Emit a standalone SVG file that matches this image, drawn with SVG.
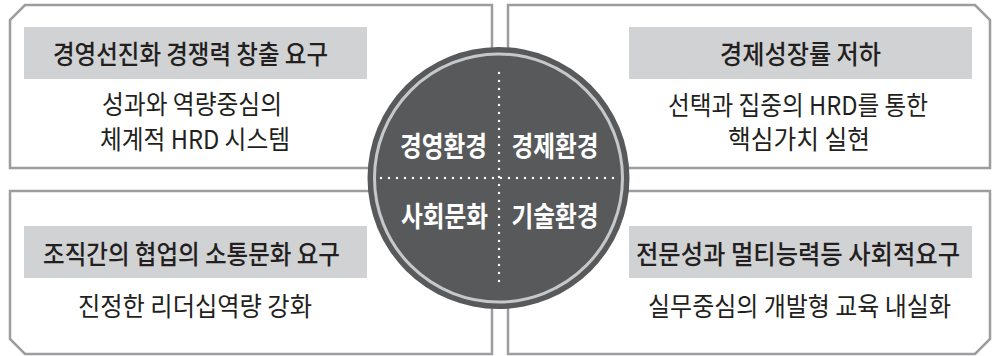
<svg xmlns="http://www.w3.org/2000/svg" width="993" height="356" viewBox="0 0 993 356">
<style>
.box{fill:#ffffff;stroke:#9d9d9f;stroke-width:2.5}
.hdr{fill:#d1d2d4}
.ht{font-family:"Noto Sans CJK KR","Noto Sans",sans-serif;font-size:26.5px;font-weight:500;fill:#231f20;text-anchor:middle;dominant-baseline:central}
.bt{font-family:"Noto Sans CJK KR","Noto Sans",sans-serif;font-size:26px;font-weight:400;fill:#231f20;text-anchor:middle;dominant-baseline:central}
.ct{font-family:"Noto Sans CJK KR","Noto Sans",sans-serif;font-size:28px;font-weight:700;fill:#ffffff;text-anchor:middle;dominant-baseline:central}
.dot{stroke:#ffffff;stroke-width:2.4;stroke-linecap:round;stroke-dasharray:0 8;fill:none}
</style>
<g id="box-management">
<path class="box" d="M25,5 L492,5 L492,168 L10,168 L10,20 Z"/>
<rect class="hdr" x="24" y="27" width="343" height="52"/>
<text class="ht" x="190.5" y="52" textLength="275" lengthAdjust="spacingAndGlyphs">경영선진화 경쟁력 창출 요구</text>
<text class="bt" x="192" y="102" textLength="180" lengthAdjust="spacingAndGlyphs">성과와 역량중심의</text>
<text class="bt" x="195" y="137" textLength="190" lengthAdjust="spacingAndGlyphs">체계적 HRD 시스템</text>
</g>
<g id="box-economy">
<path class="box" d="M508,5 L975,5 L990,20 L990,168 L508,168 Z"/>
<rect class="hdr" x="629" y="27" width="343" height="52"/>
<text class="ht" x="800.5" y="52" textLength="161" lengthAdjust="spacingAndGlyphs">경제성장률 저하</text>
<text class="bt" x="798" y="103" textLength="260" lengthAdjust="spacingAndGlyphs">선택과 집중의 HRD를 통한</text>
<text class="bt" x="799" y="137" textLength="142" lengthAdjust="spacingAndGlyphs">핵심가치 실현</text>
</g>
<g id="box-society">
<path class="box" d="M10,191 L492,191 L492,354 L25,354 L10,339 Z"/>
<rect class="hdr" x="24" y="226" width="343" height="52"/>
<text class="ht" x="191.5" y="252.5" textLength="297" lengthAdjust="spacingAndGlyphs">조직간의 협업의 소통문화 요구</text>
<text class="bt" x="195" y="304.5" textLength="234" lengthAdjust="spacingAndGlyphs">진정한 리더십역량 강화</text>
</g>
<g id="box-technology">
<path class="box" d="M508,191 L990,191 L990,339 L975,354 L508,354 Z"/>
<rect class="hdr" x="629" y="226" width="343" height="52"/>
<text class="ht" x="798" y="252.5" textLength="324" lengthAdjust="spacingAndGlyphs">전문성과 멀티능력등 사회적요구</text>
<text class="bt" x="799.5" y="304.5" textLength="303" lengthAdjust="spacingAndGlyphs">실무중심의 개발형 교육 내실화</text>
</g>
<g id="center-circle">
<circle cx="498.5" cy="178" r="131" fill="#58595b"/>
<circle cx="498.5" cy="178" r="124" fill="none" stroke="#c7c8ca" stroke-width="3"/>
<line class="dot" x1="499" y1="73" x2="499" y2="283"/>
<line class="dot" x1="381" y1="178" x2="617" y2="178"/>
<text class="ct" x="443.5" y="145" textLength="87" lengthAdjust="spacingAndGlyphs">경영환경</text>
<text class="ct" x="555" y="145" textLength="87" lengthAdjust="spacingAndGlyphs">경제환경</text>
<text class="ct" x="444.5" y="215" textLength="87" lengthAdjust="spacingAndGlyphs">사회문화</text>
<text class="ct" x="555" y="215" textLength="87" lengthAdjust="spacingAndGlyphs">기술환경</text>
</g>
<g id="connectors"></g>
</svg>
